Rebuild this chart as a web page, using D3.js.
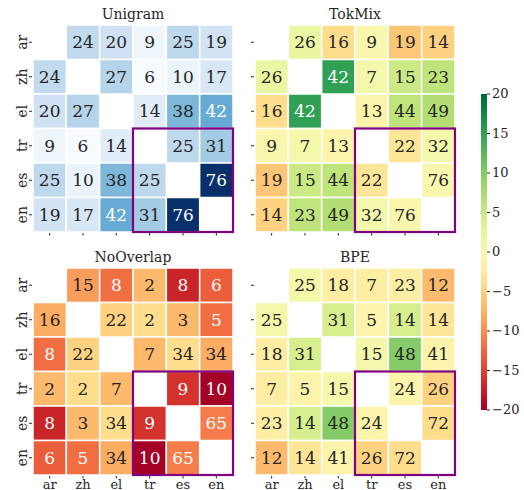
<!DOCTYPE html>
<html>
<head>
<meta charset="utf-8">
<script src="https://cdn.jsdelivr.net/npm/d3@7"></script>
<style>
  body { margin: 0; background: #fff; }
  svg text { font-family: "DejaVu Serif", "Liberation Serif", serif; fill: #262626; }
</style>
</head>
<body>
<script>
var w = 524;
var h = 490;

var langs = ["ar", "zh", "el", "tr", "es", "en"];

// overlap values per language pair (diagonal empty)
var unigram = [
  [null, 24, 20, 9, 25, 19],
  [24, null, 27, 6, 10, 17],
  [20, 27, null, 14, 38, 42],
  [9, 6, 14, null, 25, 31],
  [25, 10, 38, 25, null, 76],
  [19, 17, 42, 31, 76, null]
];
var tokmix = [
  [null, 26, 16, 9, 19, 14],
  [26, null, 42, 7, 15, 23],
  [16, 42, null, 13, 44, 49],
  [9, 7, 13, null, 22, 32],
  [19, 15, 44, 22, null, 76],
  [14, 23, 49, 32, 76, null]
];
var noOverlap = [
  [null, 15, 8, 2, 8, 6],
  [16, null, 22, 2, 3, 5],
  [8, 22, null, 7, 34, 34],
  [2, 2, 7, null, 9, 10],
  [8, 3, 34, 9, null, 65],
  [6, 5, 34, 10, 65, null]
];
var bpe = [
  [null, 25, 18, 7, 23, 12],
  [25, null, 31, 5, 14, 14],
  [18, 31, null, 15, 48, 41],
  [7, 5, 15, null, 24, 26],
  [23, 14, 48, 24, null, 72],
  [12, 14, 41, 26, 72, null]
];
var cbarTicks = [20, 15, 10, 5, 0, -5, -10, -15, -20];

var svg = d3.select("body").append("svg")
  .attr("width", w)
  .attr("height", h);

var blues = d3.scaleSequential(d3.interpolateBlues).domain([6, 76]);
var rdylgn = d3.scaleSequential(d3.interpolateRdYlGn).domain([-20, 20]).clamp(true);

function lum(c) {
  var r = d3.rgb(c);
  var f = function(v) {
    v = v / 255;
    return v <= 0.03928 ? v / 12.92 : Math.pow((v + 0.055) / 1.055, 2.4);
  };
  return 0.2126 * f(r.r) + 0.7152 * f(r.g) + 0.0722 * f(r.b);
}

var panels = [
  { title: "Unigram", data: unigram, x0: 33, y0: 25, left: true, bottom: false, color: function(v, i, j) { return blues(v); } },
  { title: "TokMix", data: tokmix, x0: 255, y0: 25, left: false, bottom: false, color: function(v, i, j) { return rdylgn(v - unigram[i][j]); } },
  { title: "NoOverlap", data: noOverlap, x0: 33, y0: 268, left: true, bottom: true, color: function(v, i, j) { return rdylgn(v - unigram[i][j]); } },
  { title: "BPE", data: bpe, x0: 255, y0: 268, left: false, bottom: true, color: function(v, i, j) { return rdylgn(v - unigram[i][j]); } }
];

var pw = 200, ph = 207;

panels.forEach(function(p) {
  var g = svg.append("g").attr("transform", "translate(" + p.x0 + "," + p.y0 + ")");

  var x = d3.scaleBand().domain(langs).range([0, pw]);
  var y = d3.scaleBand().domain(langs).range([0, ph]);

  var cells = [];
  p.data.forEach(function(row, i) {
    row.forEach(function(v, j) {
      if (v !== null) cells.push({ r: langs[i], c: langs[j], i: i, j: j, v: v });
    });
  });

  g.selectAll("rect.cell")
    .data(cells)
    .enter()
    .append("rect")
    .attr("class", "cell")
    .attr("x", function(d) { return x(d.c); })
    .attr("y", function(d) { return y(d.r); })
    .attr("width", x.bandwidth())
    .attr("height", y.bandwidth())
    .attr("fill", function(d) { return p.color(d.v, d.i, d.j); })
    .attr("stroke", "#fff")
    .attr("stroke-width", 1.5);

  g.selectAll("text.ann")
    .data(cells)
    .enter()
    .append("text")
    .attr("class", "ann")
    .attr("x", function(d) { return x(d.c) + x.bandwidth() / 2; })
    .attr("y", function(d) { return y(d.r) + y.bandwidth() / 2; })
    .attr("text-anchor", "middle")
    .attr("dy", "0.36em")
    .style("font-size", "17px")
    .style("fill", function(d) { return lum(p.color(d.v, d.i, d.j)) > 0.408 ? "#262626" : "#fff"; })
    .text(function(d) { return d.v; });

  // highlight box for tr/es/en block
  g.append("rect")
    .attr("x", x("tr"))
    .attr("y", y("tr"))
    .attr("width", x("en") + x.bandwidth() - x("tr"))
    .attr("height", y("en") + y.bandwidth() - y("tr"))
    .attr("fill", "none")
    .attr("stroke", "#800080")
    .attr("stroke-width", 2.2);

  g.append("text")
    .attr("x", pw / 2)
    .attr("y", -6)
    .attr("text-anchor", "middle")
    .style("font-size", "14px")
    .text(p.title);

  // y ticks
  var yAxis = g.append("g");
  yAxis.selectAll("line")
    .data(langs)
    .enter()
    .append("line")
    .attr("x1", -4)
    .attr("x2", -1)
    .attr("y1", function(d) { return y(d) + y.bandwidth() / 2; })
    .attr("y2", function(d) { return y(d) + y.bandwidth() / 2; })
    .attr("stroke", "#262626")
    .attr("stroke-width", 1);
  if (p.left) {
    yAxis.selectAll("text")
      .data(langs)
      .enter()
      .append("text")
      .attr("transform", function(d) { return "translate(-6," + (y(d) + y.bandwidth() / 2) + ") rotate(-90)"; })
      .attr("text-anchor", "middle")
      .style("font-size", "14px")
      .text(function(d) { return d; });
  }

  // x ticks
  var xAxis = g.append("g").attr("transform", "translate(0," + ph + ")");
  xAxis.selectAll("line")
    .data(langs)
    .enter()
    .append("line")
    .attr("x1", function(d) { return x(d) + x.bandwidth() / 2; })
    .attr("x2", function(d) { return x(d) + x.bandwidth() / 2; })
    .attr("y1", 1)
    .attr("y2", 3.5)
    .attr("stroke", "#262626")
    .attr("stroke-width", 1);
  if (p.bottom) {
    xAxis.selectAll("text")
      .data(langs)
      .enter()
      .append("text")
      .attr("x", function(d) { return x(d) + x.bandwidth() / 2; })
      .attr("y", 13.5)
      .attr("text-anchor", "middle")
      .style("font-size", "13px")
      .text(function(d) { return d; });
  }
});

// colorbar
var cbX = 481, cbW = 6;
var cbY = d3.scaleLinear().domain([20, -20]).range([94, 410]);

var defs = svg.append("defs");
var grad = defs.append("linearGradient")
  .attr("id", "cbgrad")
  .attr("x1", 0).attr("y1", 1).attr("x2", 0).attr("y2", 0);
d3.range(0, 1.0001, 0.05).forEach(function(t) {
  grad.append("stop")
    .attr("offset", t)
    .attr("stop-color", d3.interpolateRdYlGn(t));
});

svg.append("rect")
  .attr("x", cbX)
  .attr("y", cbY(20))
  .attr("width", cbW)
  .attr("height", cbY(-20) - cbY(20))
  .attr("fill", "url(#cbgrad)");

var cb = svg.append("g").attr("transform", "translate(" + (cbX + cbW) + ",0)");
cb.selectAll("line")
  .data(cbarTicks)
  .enter()
  .append("line")
  .attr("x1", 0)
  .attr("x2", 3)
  .attr("y1", function(d) { return cbY(d); })
  .attr("y2", function(d) { return cbY(d); })
  .attr("stroke", "#262626")
  .attr("stroke-width", 1);
cb.selectAll("text")
  .data(cbarTicks)
  .enter()
  .append("text")
  .attr("x", 5)
  .attr("y", function(d) { return cbY(d); })
  .attr("dy", "0.34em")
  .style("font-size", "13px")
  .text(function(d) { return d < 0 ? "\u2212" + Math.abs(d) : d; });
</script>
</body>
</html>
